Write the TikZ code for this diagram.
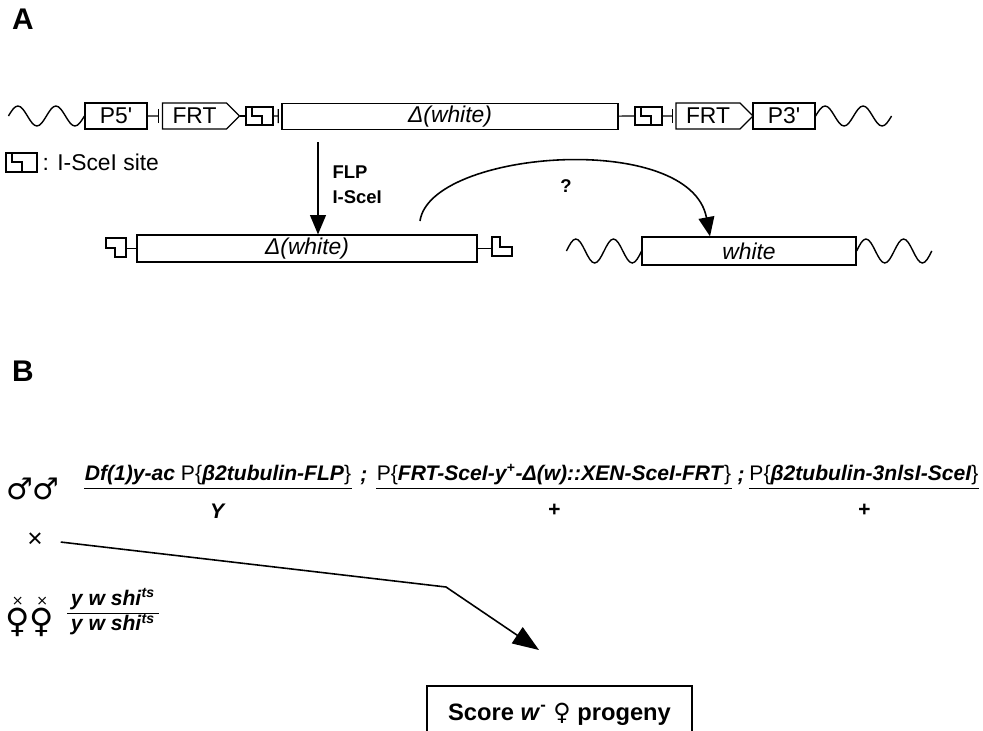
\documentclass[tikz,border=0pt]{standalone}
\usepackage{fontspec}
\setmainfont{Liberation Sans}
\newfontfamily\symfont{DejaVu Sans}
\usetikzlibrary{arrows.meta,positioning,shapes.symbols,calc}

\newcommand\pxu{0.02cm}
\newcommand\bi[1]{\textbf{\textit{#1}}}
\newcommand\virgo{\ooalign{♀\cr\hidewidth\raisebox{0.8em}{\fontsize{8}{8}\selectfont ×}\hidewidth\cr}}

\begin{document}
\begin{tikzpicture}[
  x=0.02cm, y=-0.02cm,
  line width=0.65pt,
  every node/.style={inner sep=0pt, font=\fontsize{13}{14}\selectfont},
  gbox/.style={draw, rectangle, minimum height=26*\pxu},
  frt/.style={draw, signal, signal to=east, signal pointer angle=90,
    minimum height=26*\pxu, minimum width=77*\pxu},
  site/.style={draw, minimum width=27*\pxu, minimum height=18*\pxu,
    path picture={\draw ([xshift=6*\pxu]path picture bounding box.north west)
      -- ++(0,-9*\pxu) -- ++(10*\pxu,0) -- ++(0,-9*\pxu);}},
  tick/.style={-{Bar[width=8pt]}, shorten >=1.5pt},
  wave/.style={line width=0.8pt},
  bigtip/.style={line width=0.9pt, -{Triangle[length=11pt, width=9pt]}},
  lbl/.style={font=\bfseries\fontsize{10.5}{12}\selectfont},
  geno/.style={font=\fontsize{12}{13}\selectfont, text height=8.5pt, text depth=2.5pt},
  panel/.style={font=\bfseries\fontsize{17}{19}\selectfont}
]
  \path[use as bounding box] (0,0) rectangle (983,730);
  \clip (0,0) rectangle (983,730);

  % ---- A: construct
  \node[panel] (A) at (23,19) {A};

  \node[gbox, minimum width=62*\pxu] (p5) at (116,116) {P5\textquotesingle};
  \node[frt] (frtL) at (194.5,116) {FRT};
  \node[site] (site1) at (259.5,116) {};
  \node[gbox, minimum width=336*\pxu] (dw) at (450,116.5) {\textit{Δ(white)}};
  \node[site] (site2) at (648.5,116) {};
  \node[frt] (frtR) at (708,116) {FRT};
  \node[gbox, minimum width=62*\pxu] (p3) at (784,116) {P3\textquotesingle};

  \draw[wave] (p5.west) ++(-76,0) \foreach \i in {1,2} {sin ++(9.5,-10) cos ++(9.5,10) sin ++(9.5,10) cos ++(9.5,-10)};
  \draw[wave] (p3.east) \foreach \i in {1,2} {sin ++(9.5,-10) cos ++(9.5,10) sin ++(9.5,10) cos ++(9.5,-10)};

  \draw[tick] (p5) -- (frtL);
  \draw (frtL.east) -- (site1);
  \draw[tick] (site1) -- (dw);
  \draw (dw) -- (site2);
  \draw[tick] (site2) -- (frtR);
  \draw (frtR.east) -- (p3);

  % legend
  \node[site, minimum width=31*\pxu, minimum height=19*\pxu] (key) at (21.5,162.5) {};
  \node[right=2.5pt of key] (keytxt) {: I-SceI site};

  % excision
  \coordinate (cut) at (318,142);
  \node[lbl, anchor=west] (flp) at (332,172) {FLP};
  \node[lbl, anchor=west] (isce) at (332,197) {I-SceI};

  \node[gbox, minimum width=340*\pxu, minimum height=27*\pxu] (dwB) at (307,248.5) {\textit{Δ(white)}};
  \draw[bigtip] (cut) -- (cut |- dwB.north);

  \draw (106,238) -- (126,238) -- (126,257) -- (115,257) -- (115,248) -- (106,248) -- cycle;
  \coordinate (hsL) at (126,248.5);
  \draw (hsL) -- (dwB.west);
  \draw (492,237) -- (500,237) -- (500,247) -- (512,247) -- (512,256) -- (492,256) -- cycle;
  \coordinate (hsR) at (492,248.5);
  \draw (dwB.east) -- (hsR);

  \node[gbox, minimum width=214*\pxu, minimum height=28*\pxu] (white) at (749,251) {\textit{white}};
  \draw[wave] (white.west) ++(-75,0) \foreach \i in {1,2} {sin ++(9.4,-12) cos ++(9.4,12) sin ++(9.4,12) cos ++(9.4,-12)};
  \draw[wave] (white.east) \foreach \i in {1,2} {sin ++(9.4,-12) cos ++(9.4,12) sin ++(9.4,12) cos ++(9.4,-12)};

  \coordinate (arcS) at (420,221);
  \draw[bigtip] (arcS) .. controls (430,150) and (690,130) .. ([xshift=-39*\pxu]white.north);
  \node[lbl] (q) at (566,186) {?};

  % ---- B: cross
  \node[panel] (B) at (23,371) {B};

  \node[font=\symfont\fontsize{17}{17}\selectfont] (males) at (33,489) {♂♂};
  \node[geno] (g1) at (218,475) {\bi{Df(1)y-ac} P\{\bi{β2tubulin-FLP}\}};
  \node[geno] (s1) at (364,476) {\bi{;}};
  \node[geno] (g2) at (554,475) {P\{\bi{FRT-SceI-y\textsuperscript{+}-Δ(w)::XEN-SceI-FRT}\}};
  \node[geno] (s2) at (741,476) {\bi{;}};
  \node[geno] (g3) at (864,475) {P\{\bi{β2tubulin-3nlsI-SceI}\}};
  \foreach \g in {g1,g2,g3}
    \draw ([yshift=-2pt]\g.south west) -- ([yshift=-2pt]\g.south east);
  \node[geno, below=10pt of g1] (y1) {\bi{Y}};
  \node[geno, below=9pt of g2] (y2) {\bi{+}};
  \node[geno, below=9pt of g3] (y3) {\bi{+}};

  \node[font=\fontsize{15}{15}\selectfont] (cross) at (35,540) {×};
  \node[font=\symfont\fontsize{19}{19}\selectfont] (females) at (30,620) {\virgo\virgo};
  \node[geno] (frac) at (113,613) {\renewcommand\arraystretch{1.1}%
    \begin{tabular}{@{\hspace{2pt}}c@{\hspace{2pt}}}\bi{y w shi}\textsuperscript{\bi{ts}}\\\hline
    \bi{y w shi}\textsuperscript{\bi{ts}}\end{tabular}};

  \coordinate (bend) at (446,587);
  \coordinate (tipB) at (539,650);
  \draw[bigtip, shorten <=10pt, -{Triangle[length=15pt, width=11pt]}] (cross.east) -- (bend) -- (tipB);

  \node[draw, minimum width=265*\pxu, minimum height=56*\pxu,
    font=\bfseries\fontsize{13.5}{15}\selectfont] (score) at (559.5,714)
    {Score \textit{w}\textsuperscript{-} {\symfont ♀} progeny};
\end{tikzpicture}
\end{document}
